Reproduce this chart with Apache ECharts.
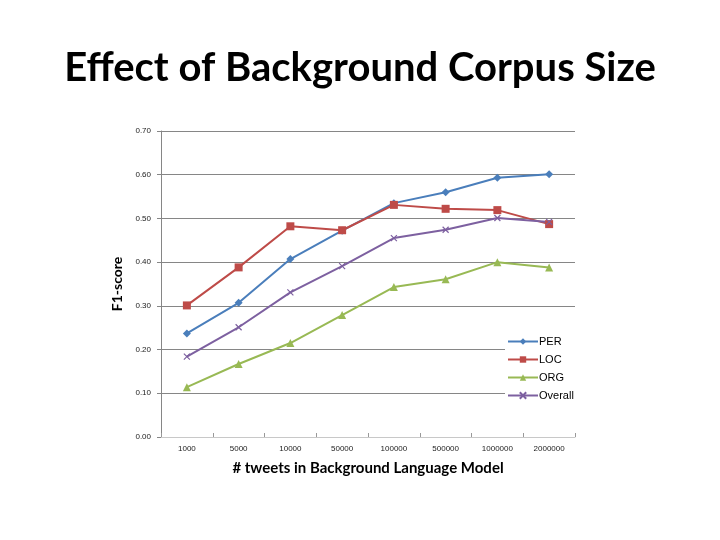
<!DOCTYPE html>
<html style="height: 100%">
<head>
  <meta charset="utf-8">
  <title>Effect of Background Corpus Size</title>
</head>
<body style="height: 100%; margin: 0; background: #fff">
  <div id="container" style="width: 720px; height: 540px"></div>
  <script type="text/javascript" src="https://cdn.jsdelivr.net/npm/echarts@6/dist/echarts.min.js"></script>
  <script type="text/javascript">
    // 数据
    const sizes = ['1000', '5000', '10000', '50000', '100000', '500000', '1000000', '2000000'];
    const per = [0.237, 0.307, 0.407, 0.472, 0.535, 0.560, 0.593, 0.601];
    const loc = [0.301, 0.388, 0.482, 0.473, 0.531, 0.522, 0.519, 0.487];
    const org = [0.114, 0.167, 0.215, 0.279, 0.343, 0.361, 0.400, 0.388];
    const overall = [0.184, 0.251, 0.331, 0.391, 0.455, 0.474, 0.501, 0.492];
    const yTicks = [0, 0.1, 0.2, 0.3, 0.4, 0.5, 0.6, 0.7];

    const myChart = echarts.init(document.getElementById('container'));

    // 单条折线
    function makeLine(name, data, color, symbol, size) {
      return {
        name: name,
        type: 'line',
        data: data,
        symbol: symbol,
        symbolSize: size,
        lineStyle: { color: color, width: 2 },
        itemStyle: { color: color, borderColor: color, borderWidth: symbol.indexOf('path') === 0 ? 1.2 : 0 }
      };
    }

    const option = {
      animation: false,
      title: {
        text: 'Effect of Background Corpus Size',
        left: 'center',
        top: 43,
        textStyle: { fontFamily: 'Lato', fontWeight: 'bold', fontSize: 40, color: '#000' }
      },
      legend: {
        orient: 'vertical',
        left: 505,
        top: 332,
        itemWidth: 30,
        itemHeight: 8,
        itemGap: 7,
        backgroundColor: '#fff',
        padding: [4, 6, 4, 2],
        textStyle: { fontFamily: 'Liberation Sans', fontSize: 11, color: '#000', padding: [0, 0, 0, -4] },
        data: ['PER', 'LOC', 'ORG', 'Overall']
      },
      grid: { left: 161, right: 145, top: 131, bottom: 103 },
      xAxis: {
        type: 'category',
        data: sizes,
        boundaryGap: true,
        name: '# tweets in Background Language Model',
        nameLocation: 'middle',
        nameGap: 24,
        nameTextStyle: { fontFamily: 'Lato', fontWeight: 'bold', fontSize: 15, color: '#000' },
        axisLine: { lineStyle: { color: '#c8c8c8' } },
        axisTick: { show: true, inside: true, length: 4, lineStyle: { color: '#999' } },
        axisLabel: { fontFamily: 'Liberation Sans', fontSize: 8, color: '#222', margin: 8 }
      },
      yAxis: {
        type: 'value',
        min: 0,
        max: 0.7,
        interval: 0.1,
        name: 'F1-score',
        nameLocation: 'middle',
        nameGap: 29,
        nameTextStyle: { fontFamily: 'Lato', fontWeight: 'bold', fontSize: 14, color: '#000' },
        axisLine: { show: true, lineStyle: { color: '#868686' } },
        axisTick: { show: true, length: 4, lineStyle: { color: '#868686' } },
        axisLabel: {
          fontFamily: 'Liberation Sans', fontSize: 8, color: '#222', margin: 10,
          formatter: v => yTicks.indexOf(Math.round(v * 10) / 10) >= 0 ? v.toFixed(2) : ''
        },
        splitLine: { show: true, lineStyle: { color: '#868686', width: 1 } }
      },
      series: [
        makeLine('PER', per, '#4A7EBB', 'diamond', 8),
        makeLine('LOC', loc, '#BE4B48', 'rect', 8),
        makeLine('ORG', org, '#98B954', 'triangle', 8),
        makeLine('Overall', overall, '#7D60A0', 'path://M0,0L10,10M10,0L0,10', 6)
      ]
    };

    myChart.setOption(option);
  </script>
</body>
</html>
